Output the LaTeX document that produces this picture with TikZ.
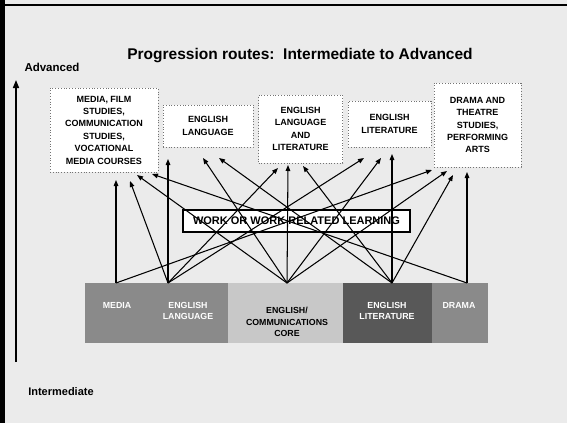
\documentclass[tikz,border=0pt]{standalone}
\usepackage{fontspec}
\setmainfont{Liberation Sans}
\usetikzlibrary{arrows.meta}
\definecolor{bgcol}{HTML}{EBEBEB}
\definecolor{barmid}{HTML}{8A8A8A}
\definecolor{barlight}{HTML}{C8C8C8}
\definecolor{bardark}{HTML}{585858}
\begin{document}
\begin{tikzpicture}[x=1pt,y=-1pt,
  topbox/.style={draw=black!55, dotted, line width=0.8pt, fill=white, align=center, inner sep=0pt,
     font=\fontsize{9}{12.4}\selectfont\bfseries},
  bartext/.style={align=center, inner sep=0pt, font=\fontsize{8.8}{11.5}\selectfont\bfseries},
  route/.style={line width=1.05pt, -{Triangle[length=6pt,width=4.6pt]}},
  lbl/.style={inner sep=0pt, font=\bfseries}]
\useasboundingbox (0,0) rectangle (567,423);
\fill[bgcol] (0,0) rectangle (567,423);
% frame
\fill[black] (0,0) rectangle (5,423);
\fill[black] (0,4) rectangle (567,6);
% title and axis labels
\node[lbl, font=\fontsize{15.5}{18}\selectfont\bfseries] (title) at (300,56) {Progression routes:\ \ Intermediate to Advanced};
\node[lbl, font=\fontsize{11.5}{13}\selectfont\bfseries] (adv) at (52,67) {Advanced};
\node[lbl, font=\fontsize{11}{13}\selectfont\bfseries] (inter) at (61,392) {Intermediate};
\coordinate (axbot) at (16,362);
\coordinate (axtop) at (16,80);
\draw[line width=1.5pt, -{Triangle[length=8pt,width=6pt]}] (axbot) -- (axtop);
% top boxes
\node[topbox, minimum width=108pt, minimum height=84pt] (media) at (104,130) {MEDIA, FILM\\STUDIES,\\COMMUNICATION\\STUDIES,\\VOCATIONAL\\MEDIA COURSES};
\node[topbox, minimum width=90pt, minimum height=42pt] (eng) at (208,126) {ENGLISH\\LANGUAGE};
\node[topbox, minimum width=84pt, minimum height=68pt] (engl) at (300.5,129) {ENGLISH\\LANGUAGE\\AND\\LITERATURE};
\node[topbox, minimum width=83pt, minimum height=46pt] (lit) at (389.5,124) {ENGLISH\\LITERATURE};
\node[topbox, minimum width=87pt, minimum height=84pt] (drama) at (477.5,125) {DRAMA AND\\THEATRE\\STUDIES,\\PERFORMING\\ARTS};
% work box
\node[draw=black, line width=1.2pt, fill=white, minimum width=227pt, minimum height=22pt, inner sep=0pt,
  font=\fontsize{11}{13}\selectfont\bfseries] (work) at (296.5,221) {WORK OR WORK RELATED LEARNING};
% bottom bar
\node[fill=barmid, minimum width=143pt, minimum height=60pt, inner sep=0pt] (segA) at (156.5,313) {};
\node[fill=barlight, minimum width=115pt, minimum height=60pt, inner sep=0pt] (segC) at (285.5,313) {};
\node[fill=bardark, minimum width=89pt, minimum height=60pt, inner sep=0pt] (segD) at (387.5,313) {};
\node[fill=barmid, minimum width=56pt, minimum height=60pt, inner sep=0pt] (segE) at (460,313) {};
\node[bartext, text=white] (bmedia) at (117,305) {MEDIA};
\node[bartext, text=white] (blang) at (188,311) {ENGLISH\\LANGUAGE};
\node[bartext, text=black] (bcore) at (287,322) {ENGLISH/\\COMMUNICATIONS\\CORE};
\node[bartext, text=white] (blit) at (387,311) {ENGLISH\\LITERATURE};
\node[bartext, text=white] (bdrama) at (459,305) {DRAMA};
% sources
\coordinate (sA) at (116,283);
\coordinate (sB) at (168,283);
\coordinate (sC) at (287,283);
\coordinate (sD) at (392,283);
\coordinate (sE) at (467,283);
% tips
\coordinate (t1) at (116,180);
\coordinate (t2) at (130,181);
\coordinate (t3) at (137,175);
\coordinate (t4) at (152,174);
\coordinate (t5) at (168,159);
\coordinate (t6) at (203,158);
\coordinate (t7) at (219,158);
\coordinate (t8) at (278,168);
\coordinate (t9) at (288,165);
\coordinate (t10) at (303,166);
\coordinate (t11) at (364,158);
\coordinate (t12) at (381,158);
\coordinate (t13) at (392,154);
\coordinate (t14) at (432,170);
\coordinate (t15) at (447,171);
\coordinate (t16) at (453,175);
\coordinate (t17) at (467,172);
% routes
\draw[route] (sA) -- (t1);
\draw[route] (sA) -- (t14);
\draw[route] (sB) -- (t2);
\draw[route] (sB) -- (t5);
\draw[route] (sB) -- (t8);
\draw[route] (sB) -- (t11);
\draw[route] (sC) -- (t3);
\draw[route] (sC) -- (t6);
\draw[route] (sC) -- (t9);
\draw[route] (sC) -- (t12);
\draw[route] (sC) -- (t15);
\draw[route] (sD) -- (t7);
\draw[route] (sD) -- (t10);
\draw[route] (sD) -- (t13);
\draw[route] (sD) -- (t16);
\draw[route] (sE) -- (t4);
\draw[route] (sE) -- (t17);
\end{tikzpicture}
\end{document}
